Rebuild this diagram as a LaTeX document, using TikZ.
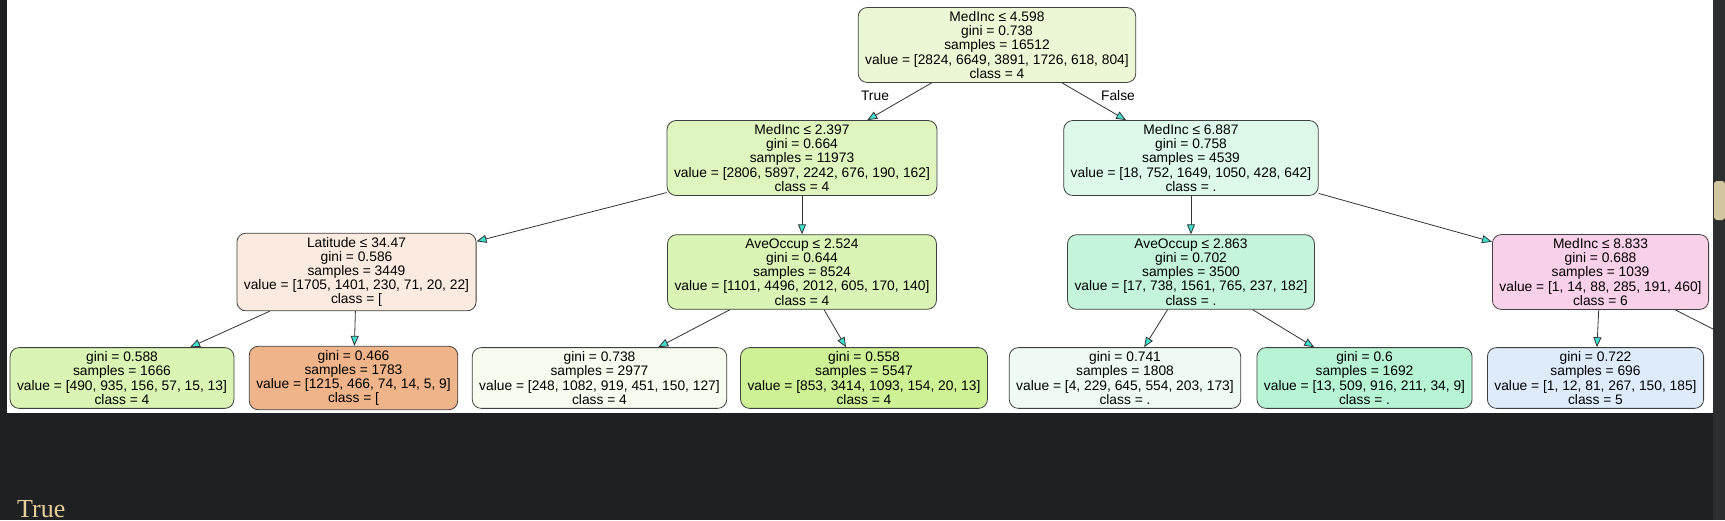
\documentclass[tikz,border=0pt]{standalone}
\usepackage{fontspec}
\setmainfont{Liberation Sans}
\newfontfamily\outfont{Liberation Serif}
\usetikzlibrary{arrows.meta}
\definecolor{darkbg}{HTML}{1E2021}
\definecolor{stripbg}{HTML}{2B2D2E}
\definecolor{thumb}{HTML}{D4C5A1}
\definecolor{outtext}{HTML}{E8CF9A}
\definecolor{tipcyan}{HTML}{3FE0D0}
\definecolor{cRoot}{HTML}{ECF8D5}
\definecolor{cA}{HTML}{DFF5BE}
\definecolor{cB}{HTML}{DDF9EA}
\definecolor{cC}{HTML}{FBEADF}
\definecolor{cD}{HTML}{DAF4B5}
\definecolor{cE}{HTML}{C4F5DA}
\definecolor{cF}{HTML}{F8D0E8}
\definecolor{cL1}{HTML}{D9F4B3}
\definecolor{cL2}{HTML}{F0B48A}
\definecolor{cL3}{HTML}{F6FCEE}
\definecolor{cL4}{HTML}{CEF195}
\definecolor{cL5}{HTML}{EEFBF4}
\definecolor{cL6}{HTML}{B6F4D4}
\definecolor{cL7}{HTML}{DDEBFA}
\tikzstyle{split} = [rectangle, draw=black!75, line width=0.8pt,
    rounded corners=9pt, align=center, inner xsep=7pt, inner ysep=4pt,
    font=\fontsize{13.8}{14.2}\selectfont]
\tikzstyle{line} = [draw, black!80, line width=0.8pt,
    -{Triangle[length=10pt, width=8pt, fill=tipcyan]}]
\tikzstyle{edgelbl} = [font=\fontsize{13.8}{14.2}\selectfont]

\begin{document}
\begin{tikzpicture}[x=1pt, y=-1pt]
  \useasboundingbox (0,0) rectangle (1725,520);
  \fill [darkbg] (0,0) rectangle (1725,520);
  \fill [stripbg] (1713,0) rectangle (1725,520);
  \fill [thumb, rounded corners=3pt] (1714,181) rectangle (1725,220);
  \fill [white] (7,0) rectangle (1713,413);

  \begin{scope}
  \clip (7,0) rectangle (1713,413);
  \node [split, fill=cRoot] (root) at (997,45)
    {MedInc ≤ 4.598\\gini = 0.738\\samples = 16512\\value = [2824, 6649, 3891, 1726, 618, 804]\\class = 4};

  \node [split, fill=cA] (inc1) at (802,158)
    {MedInc ≤ 2.397\\gini = 0.664\\samples = 11973\\value = [2806, 5897, 2242, 676, 190, 162]\\class = 4};
  \node [split, fill=cB] (inc2) at (1191,158)
    {MedInc ≤ 6.887\\gini = 0.758\\samples = 4539\\value = [18, 752, 1649, 1050, 428, 642]\\class = .};

  \node [split, fill=cC] (lat) at (356.5,272)
    {Latitude ≤ 34.47\\gini = 0.586\\samples = 3449\\value = [1705, 1401, 230, 71, 20, 22]\\class = [};
  \node [split, fill=cD] (occ1) at (802,272)
    {AveOccup ≤ 2.524\\gini = 0.644\\samples = 8524\\value = [1101, 4496, 2012, 605, 170, 140]\\class = 4};
  \node [split, fill=cE] (occ2) at (1191,272)
    {AveOccup ≤ 2.863\\gini = 0.702\\samples = 3500\\value = [17, 738, 1561, 765, 237, 182]\\class = .};
  \node [split, fill=cF] (inc3) at (1600.5,272)
    {MedInc ≤ 8.833\\gini = 0.688\\samples = 1039\\value = [1, 14, 88, 285, 191, 460]\\class = 6};

  \node [split, fill=cL1] (leaf1) at (122,378)
    {gini = 0.588\\samples = 1666\\value = [490, 935, 156, 57, 15, 13]\\class = 4};
  \node [split, fill=cL2] (leaf2) at (353.5,378)
    {gini = 0.466\\samples = 1783\\value = [1215, 466, 74, 14, 5, 9]\\class = [};
  \node [split, fill=cL3] (leaf3) at (599.5,378)
    {gini = 0.738\\samples = 2977\\value = [248, 1082, 919, 451, 150, 127]\\class = 4};
  \node [split, fill=cL4] (leaf4) at (864,378)
    {gini = 0.558\\samples = 5547\\value = [853, 3414, 1093, 154, 20, 13]\\class = 4};
  \node [split, fill=cL5] (leaf5) at (1125,378)
    {gini = 0.741\\samples = 1808\\value = [4, 229, 645, 554, 203, 173]\\class = .};
  \node [split, fill=cL6] (leaf6) at (1364.5,378)
    {gini = 0.6\\samples = 1692\\value = [13, 509, 916, 211, 34, 9]\\class = .};
  \node [split, fill=cL7] (leaf7) at (1595.5,378)
    {gini = 0.722\\samples = 696\\value = [1, 12, 81, 267, 150, 185]\\class = 5};
  \coordinate (cut) at (1713,329);

  \node [edgelbl] (truelbl) at (875,96) {True};
  \node [edgelbl] (falselbl) at (1118,96) {False};

  \path [line] (root) -- (inc1);
  \path [line] (root) -- (inc2);

  \path [line] (inc1) -- (lat);
  \path [line] (inc1) -- (occ1);
  \path [line] (inc2) -- (occ2);
  \path [line] (inc2) -- (inc3);

  \path [line] (lat) -- (leaf1);
  \path [line] (lat) -- (leaf2);
  \path [line] (occ1) -- (leaf3);
  \path [line] (occ1) -- (leaf4);
  \path [line] (occ2) -- (leaf5);
  \path [line] (occ2) -- (leaf6);
  \path [line] (inc3) -- (leaf7);
  \draw [black!80, line width=0.8pt] (inc3) -- (cut);
  \end{scope}

  \node [anchor=base west, inner sep=0pt, text=outtext,
    font=\outfont\fontsize{26}{28}\selectfont] (result) at (17,517) {True};
\end{tikzpicture}
\end{document}
